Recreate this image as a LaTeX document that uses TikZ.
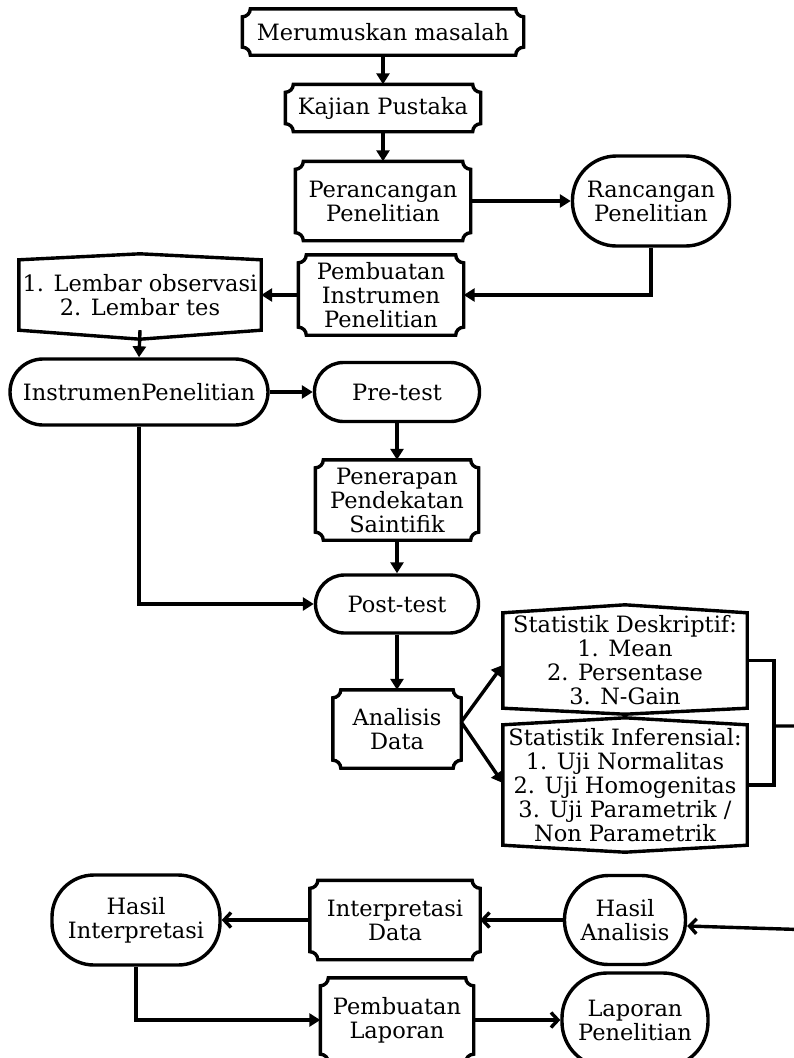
\documentclass[tikz,border=0pt]{standalone}
\usepackage{fontspec}
\setmainfont{DejaVu Serif}
\usetikzlibrary{arrows.meta}
\def\cR{8pt}
\def\cK{4.4pt}
\newcommand\scframe[1]{%
  \draw[ln] ([xshift=\cR]#1.north west) -- ([xshift=-\cR]#1.north east)
    .. controls ([xshift=-\cR,yshift=-\cK]#1.north east) and ([xshift=-\cK,yshift=-\cR]#1.north east) .. ([yshift=-\cR]#1.north east)
    -- ([yshift=\cR]#1.south east)
    .. controls ([xshift=-\cK,yshift=\cR]#1.south east) and ([xshift=-\cR,yshift=\cK]#1.south east) .. ([xshift=-\cR]#1.south east)
    -- ([xshift=\cR]#1.south west)
    .. controls ([xshift=\cR,yshift=\cK]#1.south west) and ([xshift=\cK,yshift=\cR]#1.south west) .. ([yshift=\cR]#1.south west)
    -- ([yshift=-\cR]#1.north west)
    .. controls ([xshift=\cK,yshift=-\cR]#1.north west) and ([xshift=\cR,yshift=-\cK]#1.north west) .. ([xshift=\cR]#1.north west)
    -- cycle;}
\newcommand\hxframe[3]{%
  \draw[ln] (#1.north west) -- ([yshift=#2]#1.north) -- (#1.north east)
    -- (#1.south east) -- ([yshift=-#3]#1.south) -- (#1.south west) -- cycle;}
\begin{document}
\begin{tikzpicture}[x=1pt,y=-1pt,
  ln/.style={line width=3.4pt},
  base/.style={inner sep=0pt, align=center, font=\fontsize{22.5}{24}\selectfont},
  sc/.style={base, rectangle},
  hx/.style={base, rectangle},
  rr/.style={base, rectangle, draw, ln, rounded corners=#1},
  tri/.style={-{Triangle[length=11pt,width=13pt]}},
  barb/.style={-{Straight Barb[length=7pt,width=15pt]}}]
\useasboundingbox (0,0) rectangle (793,1058);
\fill[white] (0,0) rectangle (793,1058);

\node[sc, minimum width=281pt, minimum height=46pt] (m1) at (383,32) {Merumuskan masalah};
\node[sc, minimum width=195pt, minimum height=47pt] (m2) at (383,108) {Kajian Pustaka};
\node[sc, minimum width=175pt, minimum height=79pt] (m3) at (383,201) {Perancangan\\Penelitian};
\node[rr=44pt, minimum width=157pt, minimum height=90pt] (r1) at (651,201) {Rancangan\\Penelitian};
\node[sc, minimum width=165pt, minimum height=80pt] (m4) at (381,295) {Pembuatan\\Instrumen\\Penelitian};
\node[hx, minimum width=242pt, minimum height=70pt] (h1) at (140,295) {1. Lembar observasi\\2. Lembar tes};
\node[rr=33pt, minimum width=258pt, minimum height=66pt] (s1) at (139,392) {InstrumenPenelitian};
\node[rr=29pt, minimum width=165pt, minimum height=59pt] (s2) at (397,392) {Pre-test};
\node[sc, minimum width=163pt, minimum height=80pt] (m5) at (397,500) {Penerapan\\Pendekatan\\Saintifik};
\node[rr=29pt, minimum width=163pt, minimum height=58pt] (s3) at (397,604) {Post-test};
\node[sc, minimum width=128pt, minimum height=78pt] (m6) at (397,729) {Analisis\\Data};
\node[hx, minimum width=244pt, minimum height=95pt] (h2) at (625,660.5) {Statistik Deskriptif:\\1. Mean\\2. Persentase\\3. N-Gain};
\node[hx, minimum width=244pt, minimum height=120pt] (h3) at (625,785) {Statistik Inferensial:\\1. Uji Normalitas\\2. Uji Homogenitas\\3. Uji Parametrik /\\Non Parametrik};
\node[rr=44pt, minimum width=121pt, minimum height=89pt] (r2) at (625,920) {Hasil\\Analisis};
\node[sc, minimum width=170pt, minimum height=79pt] (m7) at (395,920) {Interpretasi\\Data};
\node[rr=42pt, minimum width=168pt, minimum height=90pt] (r3) at (136,920) {Hasil\\Interpretasi};
\node[sc, minimum width=153pt, minimum height=84pt] (m8) at (397,1020) {Pembuatan\\Laporan};
\node[rr=45pt, minimum width=146pt, minimum height=94pt] (r4) at (635,1020) {Laporan\\Penelitian};

\foreach \n in {m1,m2,m3,m4,m5,m6,m7,m8} {\scframe{\n}}
\hxframe{h1}{6pt}{9pt}
\hxframe{h2}{8pt}{6pt}
\hxframe{h3}{7pt}{7pt}

\coordinate (br) at (774,726);
\coordinate (o1) at (815,726);
\coordinate (o2) at (815,930);

\draw[ln,tri] (m1.south) -- (m2.north);
\draw[ln,tri] (m2.south) -- (m3.north);
\draw[ln,tri] (m3.east) -- (r1.west);
\draw[ln,tri] (r1.south) |- (m4.east);
\draw[ln,tri] (m4.west) -- (h1.east);
\draw[ln,tri] (h1.south) -- (s1.north);
\draw[ln,tri] (s1.east) -- (s2.west);
\draw[ln,tri] (s2.south) -- (m5.north);
\draw[ln,tri] (m5.south) -- (s3.north);
\draw[ln,tri] (s1.south) |- (s3.west);
\draw[ln,tri] (s3.south) -- (m6.north);
\draw[ln,tri] ([yshift=7pt]m6.east) -- ([yshift=-4.5pt]h2.west);
\draw[ln,tri] ([yshift=7pt]m6.east) -- ([yshift=2pt]h3.west);
\draw[ln] (h2.east) -| (br) |- (h3.east);
\draw[ln,barb] (br) -- (o1) -- (o2) -- ([yshift=-6pt]r2.east);
\draw[ln,barb] (r2.west) -- (m7.east);
\draw[ln,barb] (m7.west) -- (r3.east);
\draw[ln,tri] (r3.south) |- (m8.west);
\draw[ln,barb] (m8.east) -- (r4.west);
\end{tikzpicture}
\end{document}
